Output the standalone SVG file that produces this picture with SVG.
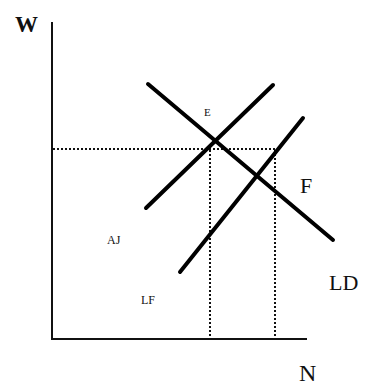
<svg xmlns="http://www.w3.org/2000/svg" width="373" height="385" viewBox="0 0 373 385">
<style>
.axis{stroke:#111;stroke-width:2;fill:none}
.curve{stroke:#000;stroke-width:4;fill:none;stroke-linecap:round}
.dot{stroke:#111;stroke-width:2;stroke-dasharray:2,2;fill:none}
text{font-family:"Liberation Serif","Times New Roman",serif;fill:#111}
</style>
<rect width="373" height="385" fill="#fff"/>
<g id="axes">
<path class="axis" d="M52,22 V339 H307"/>
<text x="15" y="32" font-size="23" font-weight="bold">W</text>
<text x="299" y="381" font-size="24">N</text>
</g>
<g id="connectors">
<path class="dot" d="M53,149 H275 M210,150 V338 M275,150 V338"/>
</g>
<g id="LD">
<line class="curve" x1="148" y1="84" x2="333" y2="240"/>
<text x="329" y="290" font-size="22">LD</text>
</g>
<g id="AJ">
<line class="curve" x1="146" y1="208" x2="273" y2="85"/>
<text x="107" y="244" font-size="12">AJ</text>
</g>
<g id="LF">
<line class="curve" x1="180" y1="272" x2="303" y2="118"/>
<text x="141" y="304" font-size="12">LF</text>
</g>
<g id="E">
<text x="204" y="116" font-size="11">E</text>
</g>
<g id="F">
<text x="300" y="193" font-size="22">F</text>
</g>
</svg>
